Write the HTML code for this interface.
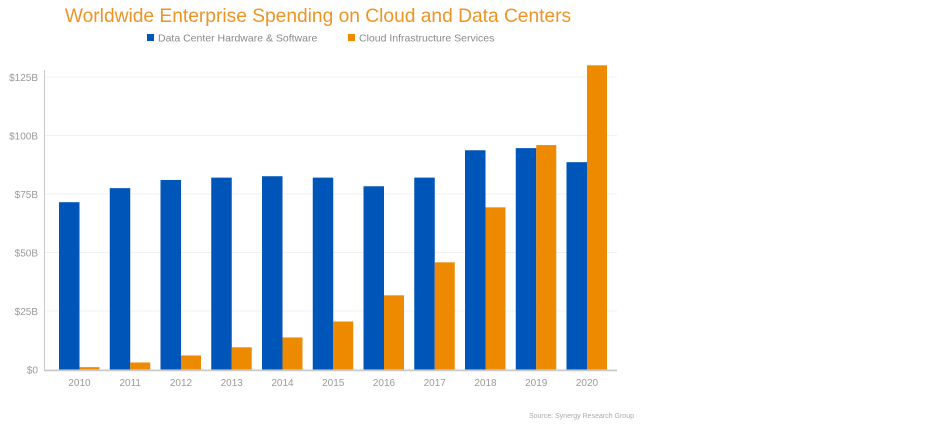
<!DOCTYPE html>
<html><head><meta charset="utf-8"><style>
body{margin:0;background:#fff;width:936px;height:428px;overflow:hidden;font-family:"Liberation Sans",sans-serif}
</style></head><body>
<svg id="chart" width="936" height="428" xmlns="http://www.w3.org/2000/svg">
<text x="318" y="22" text-anchor="middle" font-size="19.2" fill="#ee9425">Worldwide Enterprise Spending on Cloud and Data Centers</text>
<g>
<rect x="147" y="34" width="7" height="7" fill="#0055b8"/>
<text x="158" y="41.5" font-size="10.5" fill="#8a8a8a">Data Center Hardware &amp; Software</text>
<rect x="348" y="34" width="7" height="7" fill="#ee8a00"/>
<text x="359" y="41.5" font-size="10.5" fill="#8a8a8a">Cloud Infrastructure Services</text>
</g>
<g id="grid"></g><g id="bars"></g><g id="axes"></g>
<text x="634" y="418" text-anchor="end" font-size="7" fill="#aaa">Source: Synergy Research Group</text>
</svg>
<script>
const years=["2010","2011","2012","2013","2014","2015","2016","2017","2018","2019","2020"];
const hardware=[71.5,77.5,81,82,82.6,82,78.3,82,93.7,94.6,88.6];
const cloud=[1,3,6,9.5,13.7,20.5,31.7,45.8,69.3,95.9,130];
const yTicks=[0,25,50,75,100,125];
const yTickLabels=["$0","$25B","$50B","$75B","$100B","$125B"];
const NS="http://www.w3.org/2000/svg";
const y0=369.5,pxPer=(369.5-77)/125;
const yS=v=>y0-v*pxPer;
const xC=i=>79.5+i*50.75;
function mk(t,a,p){const e=document.createElementNS(NS,t);for(const k in a)e.setAttribute(k,a[k]);p.appendChild(e);return e;}
const grid=document.getElementById('grid'),bars=document.getElementById('bars'),axes=document.getElementById('axes');
yTicks.forEach((v,i)=>{
 const l=mk('line',{x1:45,x2:617,y1:yS(v),y2:yS(v),stroke:'#f0f0f0','stroke-width':1},grid);
 
 
 const t=mk('text',{x:38,y:yS(v)+4,'text-anchor':'end','font-size':10,fill:'#9a9a9a'},axes);
 t.textContent=yTickLabels[i];
 
 
});
years.forEach((yr,i)=>{
 const c=xC(i);
 const b=mk('rect',{x:c-20.5,y:yS(hardware[i]),width:20.5,height:y0-yS(hardware[i]),fill:'#0055b8'},bars);
 
 
 const o=mk('rect',{x:c,y:yS(cloud[i]),width:20,height:y0-yS(cloud[i]),fill:'#ee8a00'},bars);
 
 
 const t=mk('text',{x:c,y:386,'text-anchor':'middle','font-size':10,fill:'#9a9a9a'},axes);
 t.textContent=yr;
 
 
});
const ya=mk('line',{x1:44.5,x2:44.5,y1:70,y2:370,stroke:'#c8c8c8','stroke-width':1},axes);


const xa=mk('line',{x1:44,x2:617,y1:370.5,y2:370.5,stroke:'#c8c8c8','stroke-width':1.5},axes);


</script>
</body></html>
